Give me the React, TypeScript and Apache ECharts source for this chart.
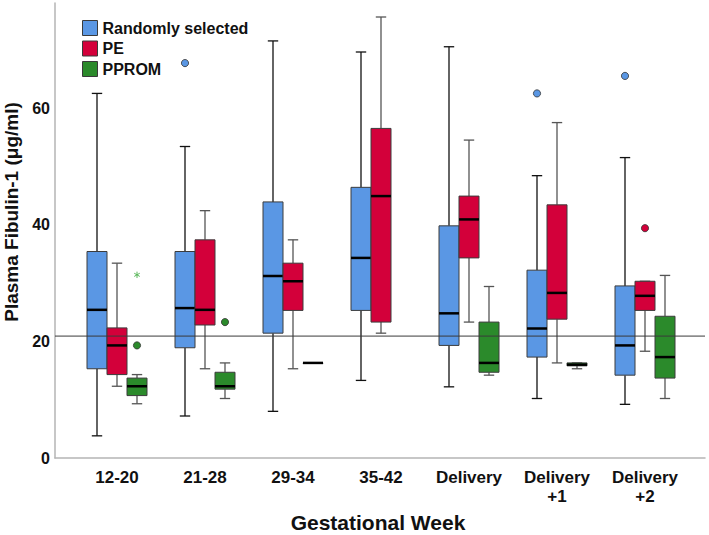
import React, { useEffect, useRef } from 'react';
import * as echarts from 'echarts';

const categories = ['12-20', '21-28', '29-34', '35-42', 'Delivery', 'Delivery\n+1', 'Delivery\n+2'];
const seriesNames = ['Randomly selected', 'PE', 'PPROM'];

// [min, Q1, median, Q3, max] per gestational-week category
const randomStats = [
  [3.8, 15.3, 25.4, 35.4, 62.5],
  [7.2, 18.9, 25.7, 35.4, 53.4],
  [8.0, 21.4, 31.2, 43.9, 71.5],
  [13.3, 25.3, 34.3, 46.4, 69.6],
  [12.2, 19.3, 24.8, 39.8, 70.5],
  [10.2, 17.3, 22.2, 32.2, 48.4],
  [9.2, 14.2, 19.3, 29.5, 51.5],
];
const peStats = [
  [12.3, 14.3, 19.3, 22.3, 33.4],
  [15.3, 22.8, 25.4, 37.4, 42.4],
  [15.3, 25.3, 30.3, 33.4, 37.4],
  [21.4, 23.3, 44.9, 56.5, 75.6],
  [23.3, 34.3, 40.9, 44.9, 54.5],
  [16.3, 23.8, 28.3, 43.4, 57.5],
  [18.3, 25.3, 27.8, 30.3, 30.3],
];
const ppromStats = [
  [9.3, 10.7, 12.3, 13.7, 14.3],
  [10.2, 11.8, 12.3, 14.7, 16.3],
  [16.3, 16.3, 16.3, 16.3, 16.3],
  null,
  [14.2, 14.7, 16.3, 23.3, 29.4],
  [15.3, 15.8, 16.0, 16.3, 16.3],
  [10.2, 13.7, 17.3, 24.3, 31.3],
];

// outliers: [categoryIndex, value]
const randomOutliers = [[1, 67.7], [5, 62.5], [6, 65.5]];
const peOutliers = [[6, 39.4]];
const ppromOutliers = [[0, 19.3], [1, 23.3]];
const ppromExtremes = [[0, 31.4]];

const referenceLevel = 20.9;
const yMin = 0;
const yMax = 78;
const yInterval = 20;

const FONT = '"Liberation Sans", Arial, Helvetica, sans-serif';
const BLUE = '#5A97E4';
const RED = '#D3003A';
const GREEN = '#2B8A2B';
const BOX_FRAC = 20 / 88;

function boxSeries(name: string, fill: string, whisker: string, slot: number, stats: any[]) {
  const data: any[] = [];
  stats.forEach((s, i) => {
    if (s) data.push([i, ...s]);
  });
  return {
    type: 'custom',
    name,
    xAxisIndex: 1,
    yAxisIndex: 1,
    z: 3,
    silent: true,
    data,
    encode: { x: 0, y: [1, 2, 3, 4, 5] },
    renderItem: (params: any, api: any) => {
      const i = api.value(0);
      const band = api.size([1, 0])[0];
      const w = band * BOX_FRAC;
      const cx = api.coord([i, 0])[0] + slot * w;
      const py = (k: number) => api.coord([i, api.value(k)])[1];
      const lo = py(1), q1 = py(2), md = py(3), q3 = py(4), hi = py(5);
      const cap = w * 0.26;
      const ws = { stroke: whisker, lineWidth: 1.3 };
      return {
        type: 'group',
        children: [
          { type: 'line', shape: { x1: cx, y1: hi, x2: cx, y2: q3 }, style: ws },
          { type: 'line', shape: { x1: cx, y1: q1, x2: cx, y2: lo }, style: ws },
          { type: 'line', shape: { x1: cx - cap, y1: hi, x2: cx + cap, y2: hi }, style: ws },
          { type: 'line', shape: { x1: cx - cap, y1: lo, x2: cx + cap, y2: lo }, style: ws },
          {
            type: 'rect',
            shape: { x: cx - w / 2, y: q3, width: w, height: Math.max(q1 - q3, 0.5) },
            style: { fill, stroke: '#3c3c3c', lineWidth: 1 },
          },
          { type: 'line', shape: { x1: cx - w / 2, y1: md, x2: cx + w / 2, y2: md }, style: { stroke: '#000', lineWidth: 2.5 } },
        ],
      };
    },
  };
}

function outlierSeries(name: string, fill: string, slot: number, pts: number[][], star: boolean) {
  return {
    type: 'custom',
    name,
    xAxisIndex: 1,
    yAxisIndex: 1,
    z: 4,
    silent: true,
    data: pts,
    encode: { x: 0, y: 1 },
    renderItem: (params: any, api: any) => {
      const i = api.value(0);
      const band = api.size([1, 0])[0];
      const w = band * BOX_FRAC;
      const p = api.coord([i, api.value(1)]);
      const cx = p[0] + slot * w;
      const cy = p[1];
      if (star) {
        const r = 3.2;
        const children: any[] = [];
        for (let k = 0; k < 3; k++) {
          const a = Math.PI / 2 + (k * Math.PI) / 3;
          children.push({
            type: 'line',
            shape: { x1: cx - r * Math.cos(a), y1: cy - r * Math.sin(a), x2: cx + r * Math.cos(a), y2: cy + r * Math.sin(a) },
            style: { stroke: '#5cb85c', lineWidth: 1 },
          });
        }
        return { type: 'group', children };
      }
      return {
        type: 'circle',
        shape: { cx, cy, r: 3.6 },
        style: { fill, stroke: '#333', lineWidth: 0.8 },
      };
    },
  };
}

export default function App() {
  const ref = useRef<HTMLDivElement>(null);

  useEffect(() => {
    if (!ref.current) return;
    const chart = echarts.init(ref.current, null, { renderer: 'svg' });
    const axisLineStyle = { color: '#b5b5b5', width: 1.5 };
    const colors = [BLUE, RED, GREEN];
    chart.setOption({
      animation: false,
      backgroundColor: '#fff',
      textStyle: { fontFamily: FONT },
      grid: [
        { left: 55, right: 4, top: 3, bottom: 77 },
        { left: 73, right: 20, top: 3, bottom: 77 },
      ],
      xAxis: [
        {
          type: 'value',
          gridIndex: 0,
          min: 0,
          max: 1,
          axisLine: { show: true, onZero: false, lineStyle: axisLineStyle },
          axisTick: { show: false },
          axisLabel: { show: false },
          splitLine: { show: false },
        },
        {
          type: 'category',
          gridIndex: 1,
          data: categories,
          axisLine: { show: false },
          axisTick: { show: false },
          splitLine: { show: false },
          axisLabel: {
            interval: 0,
            margin: 10,
            fontSize: 17,
            fontWeight: 'bold',
            lineHeight: 19,
            color: '#111',
            fontFamily: FONT,
          },
        },
      ],
      yAxis: [
        {
          type: 'value',
          gridIndex: 0,
          min: yMin,
          max: yMax,
          interval: yInterval,
          axisLine: { show: true, lineStyle: axisLineStyle },
          axisTick: { show: false },
          splitLine: { show: false },
          axisLabel: {
            margin: 5,
            fontSize: 16,
            fontWeight: 'bold',
            color: '#111',
            fontFamily: FONT,
            formatter: (v: number) => (v % yInterval === 0 ? String(v) : ''),
          },
        },
        {
          type: 'value',
          gridIndex: 1,
          min: yMin,
          max: yMax,
          show: false,
        },
      ],
      legend: {
        left: 77,
        top: 15,
        orient: 'vertical',
        itemWidth: 15,
        itemHeight: 15,
        itemGap: 4.5,
        selectedMode: false,
        textStyle: { fontSize: 16, fontWeight: 'bold', color: '#111', fontFamily: FONT, lineHeight: 16 },
        data: seriesNames.map((n, k) => ({
          name: n,
          icon: 'rect',
          itemStyle: { color: colors[k], borderColor: '#3a3a3a', borderWidth: 1 },
        })),
      },
      graphic: [
        {
          type: 'text',
          x: 11,
          y: 212,
          rotation: Math.PI / 2,
          style: {
            text: 'Plasma Fibulin-1 (μg/ml)',
            font: `bold 19px ${FONT}`,
            fill: '#111',
            align: 'center',
            verticalAlign: 'middle',
            textAlign: 'center',
            textVerticalAlign: 'middle',
          },
        },
        {
          type: 'text',
          x: 378,
          y: 522,
          style: {
            text: 'Gestational Week',
            font: `bold 21px ${FONT}`,
            fill: '#111',
            align: 'center',
            verticalAlign: 'middle',
            textAlign: 'center',
            textVerticalAlign: 'middle',
          },
        },
      ],
      series: [
        boxSeries(seriesNames[0], BLUE, '#111', -1, randomStats),
        boxSeries(seriesNames[1], RED, '#555', 0, peStats),
        boxSeries(seriesNames[2], GREEN, '#555', 1, ppromStats),
        outlierSeries(seriesNames[0], BLUE, -1, randomOutliers, false),
        outlierSeries(seriesNames[1], RED, 0, peOutliers, false),
        outlierSeries(seriesNames[2], GREEN, 1, ppromOutliers, false),
        outlierSeries(seriesNames[2], GREEN, 1, ppromExtremes, true),
        {
          type: 'line',
          name: 'reference',
          xAxisIndex: 0,
          yAxisIndex: 0,
          z: 6,
          silent: true,
          symbol: 'none',
          data: [[0, referenceLevel], [1, referenceLevel]],
          lineStyle: { color: '#3a3a3a', width: 1 },
        },
      ],
    });
    return () => chart.dispose();
  }, []);

  return (
    <div
      ref={ref}
      style={{ position: 'fixed', left: 0, top: 0, width: 709, height: 535, background: '#fff' }}
    />
  );
}
